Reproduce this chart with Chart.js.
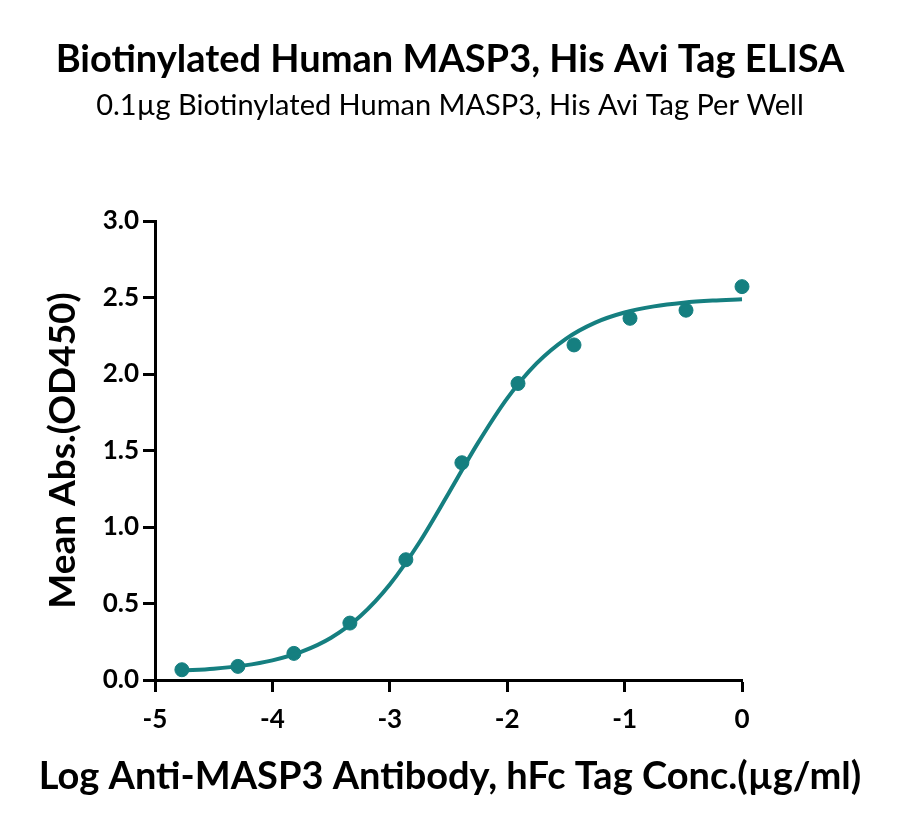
<!DOCTYPE html>
<html>
<head>
<meta charset="utf-8">
<script src="https://cdn.jsdelivr.net/npm/chart.js@4.4.0/dist/chart.umd.min.js"></script>
<style>
  html, body { margin: 0; padding: 0; background: #fff; }
  #wrap { width: 900px; height: 832px; }
</style>
</head>
<body>
<div id="wrap"><canvas id="chartCanvas" width="900" height="832"></canvas></div>
<script>
// measured points (log conc vs OD450)
const logConc = [-4.771, -4.294, -3.817, -3.340, -2.863, -2.386, -1.908, -1.431, -0.954, -0.477, 0];
const meanAbs = [0.067, 0.089, 0.174, 0.372, 0.786, 1.420, 1.938, 2.190, 2.364, 2.417, 2.571];

// fitted curve
const fitX = [-4.77, -4.5, -4.25, -4.0, -3.75, -3.5, -3.25, -3.0, -2.75, -2.5, -2.25, -2.0, -1.75, -1.5, -1.25, -1.0, -0.75, -0.5, -0.25, 0];
const fitY = [0.061, 0.074, 0.094, 0.128, 0.185, 0.276, 0.418, 0.624, 0.897, 1.219, 1.548, 1.841, 2.069, 2.230, 2.336, 2.402, 2.442, 2.466, 2.480, 2.488];

const xTicks = [-5, -4, -3, -2, -1, 0];
const yTicks = [0, 0.5, 1.0, 1.5, 2.0, 2.5, 3.0];

const titleText = 'Biotinylated Human MASP3, His Avi Tag ELISA';
const subtitleText = '0.1µg Biotinylated Human MASP3, His Avi Tag Per Well';
const xTitleText = 'Log Anti-MASP3 Antibody, hFc Tag Conc.(µg/ml)';

const teal = '#157f80';
const fontFam = 'Lato, "Noto Sans", sans-serif';

const points = logConc.map((x, i) => ({ x: x, y: meanAbs[i] }));
const curve = fitX.map((x, i) => ({ x: x, y: fitY[i] }));

// titles centred on the whole canvas, not on the plot area
// (the x title is wider than the plot, chart.js would squeeze it)
const headerPlugin = {
    id: 'header',
    afterDraw(chart) {
        const ctx = chart.ctx;
        ctx.save();
        ctx.fillStyle = '#000';
        ctx.textAlign = 'center';
        ctx.textBaseline = 'alphabetic';
        ctx.font = 'bold 38px ' + fontFam;
        ctx.fillText(titleText, chart.width / 2, 72);
        ctx.font = '29px ' + fontFam;
        ctx.fillText(subtitleText, chart.width / 2, 115);
        ctx.font = 'bold 38px ' + fontFam;
        ctx.fillText(xTitleText, chart.width / 2, 789);
        ctx.restore();
    }
};

new Chart(document.getElementById('chartCanvas'), {
    type: 'scatter',
    data: {
        datasets: [{
            label: 'fit',
            data: curve,
            showLine: true,
            borderColor: teal,
            borderWidth: 4,
            pointRadius: 0,
            cubicInterpolationMode: 'monotone',
            clip: false
        }, {
            label: 'data',
            data: points,
            backgroundColor: teal,
            borderColor: teal,
            pointRadius: 7,
            pointHoverRadius: 7,
            clip: false
        }]
    },
    plugins: [headerPlugin],
    options: {
        responsive: false,
        animation: false,
        devicePixelRatio: 1,
        layout: { padding: { left: 0, right: 158, top: 221, bottom: 0 } },
        plugins: {
            legend: { display: false },
            tooltip: { enabled: false },
            title: { display: false }
        },
        scales: {
            x: {
                type: 'linear',
                min: -5,
                max: 0,
                afterBuildTicks: (s) => { s.ticks = xTicks.map(v => ({ value: v })); },
                afterFit: (s) => { s.height = 152; },
                border: { display: true, color: '#000', width: 3 },
                grid: { display: true, drawOnChartArea: false, drawTicks: true, tickLength: 12, tickColor: '#000', tickWidth: 3 },
                ticks: { color: '#000', padding: 12, font: { family: fontFam, size: 26, weight: 'bold' } },
                title: { display: false }
            },
            y: {
                type: 'linear',
                min: 0,
                max: 3,
                afterBuildTicks: (s) => { s.ticks = yTicks.map(v => ({ value: v })); },
                afterFit: (s) => { s.width = 155; },
                border: { display: true, color: '#000', width: 3 },
                grid: { display: true, drawOnChartArea: false, drawTicks: true, tickLength: 12, tickColor: '#000', tickWidth: 3 },
                ticks: {
                    color: '#000',
                    padding: 4,
                    font: { family: fontFam, size: 26, weight: 'bold' },
                    callback: (v) => v.toFixed(1)
                },
                title: {
                    display: true,
                    text: 'Mean Abs.(OD450)',
                    color: '#000',
                    font: { family: fontFam, size: 37, weight: 'bold' },
                    padding: { top: 41, bottom: 41 }
                }
            }
        }
    }
});
</script>
</body>
</html>
